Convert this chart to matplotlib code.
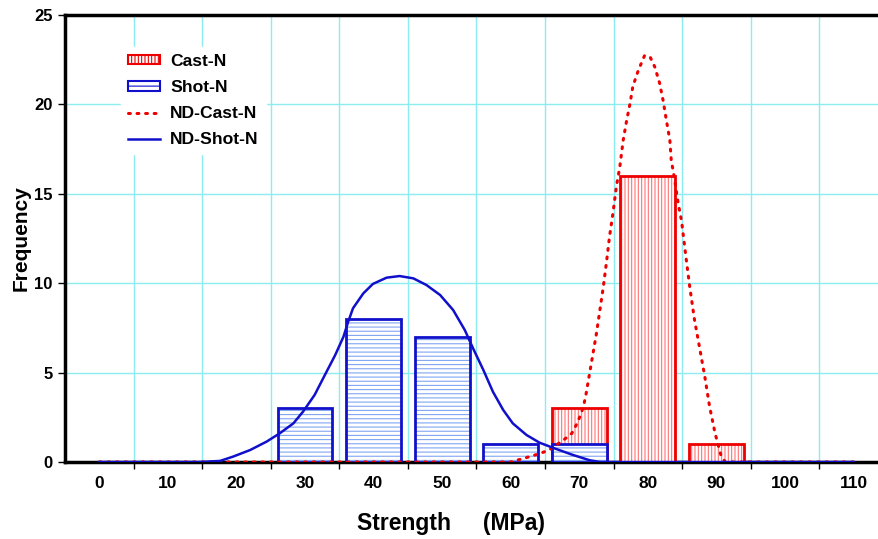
import matplotlib
matplotlib.use("Agg")
import matplotlib.pyplot as plt
from matplotlib.patches import Patch
from matplotlib.lines import Line2D

plt.rcParams['font.family'] = ['Liberation Sans', 'DejaVu Sans']
plt.rcParams['font.weight'] = 'bold'

# histogram data
strength = [0, 10, 20, 30, 40, 50, 60, 70, 80, 90, 100, 110]
cast_n = [0, 0, 0, 0, 0, 0, 0, 3, 16, 1, 0, 0]
shot_n = [0, 0, 0, 3, 8, 7, 1, 1, 0, 0, 0, 0]

# normal distribution curves
nd_shot_x = [0, 14.7, 17.6, 19.5, 22.0, 24.4, 26.3, 28.3, 29.7, 31.4, 32.9, 34.4,
             35.6, 36.3, 37.0, 38.5, 39.9, 41.9, 43.8, 45.8, 47.7, 49.7, 51.6,
             53.3, 54.5, 56.0, 57.4, 58.9, 60.3, 62.3, 64.2, 66.4, 69.1, 71.5,
             73.0, 110]
nd_shot_y = [0, 0, 0.06, 0.3, 0.67, 1.14, 1.6, 2.16, 2.81, 3.75, 4.87, 5.98,
             7.0, 7.85, 8.6, 9.43, 9.96, 10.31, 10.4, 10.27, 9.9, 9.34, 8.5,
             7.38, 6.36, 5.15, 3.93, 2.91, 2.16, 1.51, 1.08, 0.76, 0.39, 0.1,
             0, 0]

nd_cast_x = [0, 60.0, 62.3, 63.8, 65.5, 67.6, 68.9, 69.8, 70.6, 71.0, 71.5, 72.0,
             72.5, 73.0, 73.5, 74.0, 74.4, 74.9, 75.4, 75.9, 76.4, 76.9, 77.4,
             77.8, 78.6, 79.5, 80.3, 81.0, 81.7, 82.2, 82.7, 83.2, 83.4, 83.9,
             84.4, 84.9, 85.6, 86.1, 86.8, 87.6, 88.3, 89.0, 89.8, 90.7, 91.3, 110]
nd_cast_y = [0, 0, 0.25, 0.42, 0.65, 1.2, 1.6, 2.25, 3.09, 3.84, 4.96, 6.08,
             7.2, 8.5, 9.8, 11.3, 12.6, 13.9, 15.4, 16.5, 18.0, 19.1, 20.06,
             21.0, 21.9, 22.72, 22.67, 22.1, 21.2, 20.25, 19.1, 18.0, 16.9, 15.8,
             14.5, 13.5, 11.3, 9.8, 7.94, 6.26, 4.77, 3.09, 1.6, 0.3, 0, 0]

red = '#ee0000'
blue = '#1010cc'
grid_c = '#8cecf0'

fig = plt.figure(figsize=(8.79, 5.39), dpi=100)
ax = fig.add_axes([65 / 879, 77 / 539, 814 / 879, 447 / 539])

# bars
plt.rcParams['hatch.linewidth'] = 0.8
cast_bars = ax.bar(strength, cast_n, width=8, facecolor='white', edgecolor=red,
                   linewidth=2, hatch='|||||', zorder=3)
for b in cast_bars:
    b._hatch_color = (1.0, 0.45, 0.45, 1.0)
shot_bars = ax.bar(strength, shot_n, width=8, facecolor='white', edgecolor=blue,
                   linewidth=2, hatch='----', zorder=4)
for b in shot_bars:
    b._hatch_color = (0.5, 0.65, 0.95, 1.0)
for b, v in zip(list(cast_bars) + list(shot_bars), cast_n + shot_n):
    if v == 0:
        b.set_visible(False)

# curves
ax.plot(nd_cast_x, nd_cast_y, color=red, linewidth=2.2,
        linestyle=(0, (0.6, 2.2)), dash_capstyle='round', zorder=5)
ax.plot(nd_shot_x, nd_shot_y, color=blue, linewidth=1.8, zorder=6)

ax.set_xlim(-5, 113.7)
ax.set_ylim(0, 25)

ax.set_xticks(strength)
ax.set_xticklabels([str(s) for s in strength])
ax.set_xticks([s + 5 for s in strength[:-1]], minor=True)
ax.tick_params(axis='x', which='major', length=0, pad=10, labelsize=12.5)
ax.tick_params(axis='x', which='minor', length=5, width=1, direction='out')
ax.set_yticks([0, 5, 10, 15, 20, 25])
ax.tick_params(axis='y', length=5, width=1, pad=4, labelsize=12)

ax.grid(True, which='minor', axis='x', color=grid_c, linewidth=1, zorder=0)
ax.grid(True, which='major', axis='y', color=grid_c, linewidth=1, zorder=0)
ax.set_axisbelow(True)

for s in ['left', 'top', 'bottom']:
    ax.spines[s].set_linewidth(2.5)
    ax.spines[s].set_color('black')
ax.spines['right'].set_visible(False)

ax.set_xlabel('Strength     (MPa)', fontsize=16.5, fontweight='bold')
ax.xaxis.set_label_coords((451 - 65) / 814, -(512 - 462) / 447)
ax.set_ylabel('Frequency', fontsize=15, fontweight='bold')
ax.yaxis.set_label_coords(-(65 - 31) / 814, 0.5)

handles = [
    Patch(facecolor='white', edgecolor=red, hatch='|||||', linewidth=1.5, label='Cast-N'),
    Patch(facecolor='white', edgecolor=blue, hatch='---', linewidth=1.5, label='Shot-N'),
    Line2D([], [], color=red, linewidth=2.2, linestyle=(0, (0.6, 2.2)),
           dash_capstyle='round', label='ND-Cast-N'),
    Line2D([], [], color=blue, linewidth=1.8, label='ND-Shot-N'),
]
leg = ax.legend(handles=handles, loc='upper left', bbox_to_anchor=(112 / 879, 1 - 38 / 539),
                bbox_transform=fig.transFigure, frameon=True, fancybox=False,
                edgecolor='white', facecolor='white', framealpha=1,
                prop={'size': 12.6, 'weight': 'bold'}, handlelength=1.85,
                handleheight=0.48, labelspacing=0.64, handletextpad=0.57)
leg.set_zorder(10)

fig.savefig('out.png', dpi=100)
